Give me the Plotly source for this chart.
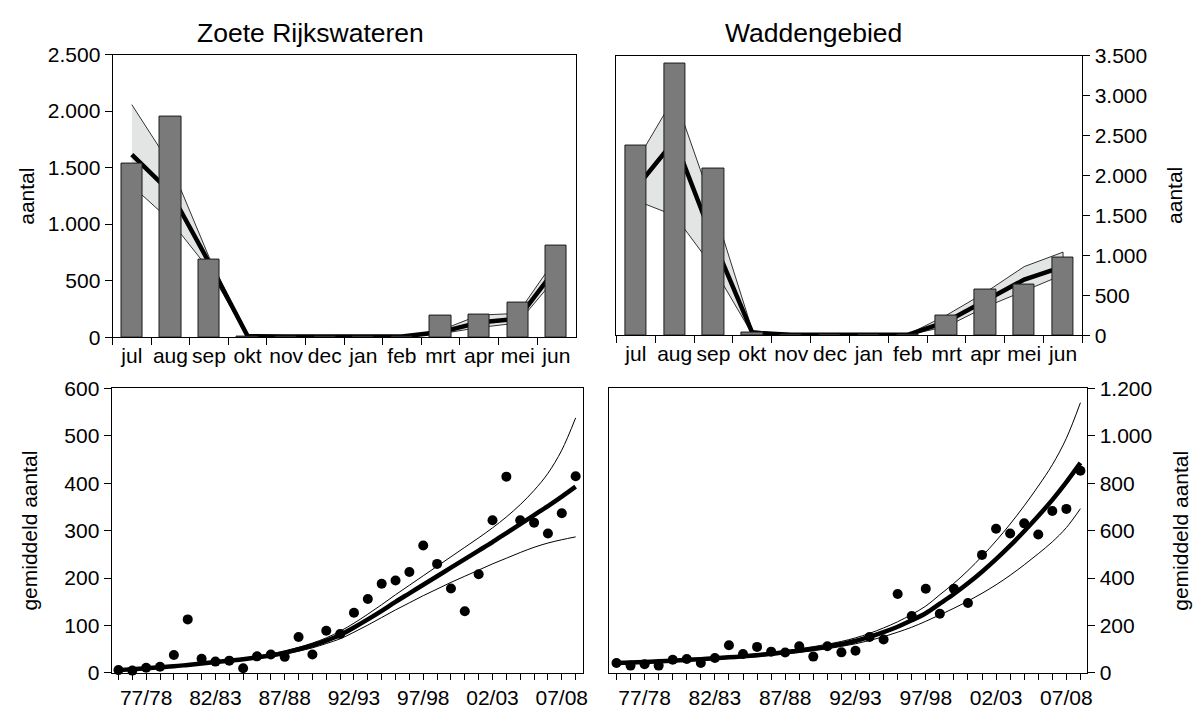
import plotly.graph_objects as go

W, H = 1202, 713

# ---- monthly totals (top row) ----
months = ["jul", "aug", "sep", "okt", "nov", "dec", "jan", "feb", "mrt", "apr", "mei", "jun"]

zr_counts = [1540, 1955, 682, 8, 4, 2, 1, 2, 190, 203, 302, 810]
zr_trend = [1615, 1284, 662, 10, 5, 3, 2, 5, 45, 130, 163, 610]
zr_upper = [2057, 1527, 710, 15, 7, 4, 3, 7, 60, 195, 210, 700]
zr_lower = [1340, 1030, 600, 6, 3, 2, 1, 3, 30, 85, 125, 530]

wg_counts = [2375, 3400, 2090, 35, 5, 3, 3, 5, 250, 567, 640, 975]
wg_trend = [1840, 2440, 1180, 30, 5, 3, 3, 5, 170, 434, 697, 860]
wg_upper = [2163, 2988, 1600, 60, 8, 5, 5, 8, 251, 535, 859, 1040]
wg_lower = [1686, 1497, 840, 12, 3, 2, 2, 3, 109, 352, 555, 757]

# ---- seasonal means (bottom row) ----
seasons = ["75/76", "76/77", "77/78", "78/79", "79/80", "80/81", "81/82", "82/83",
           "83/84", "84/85", "85/86", "86/87", "87/88", "88/89", "89/90", "90/91",
           "91/92", "92/93", "93/94", "94/95", "95/96", "96/97", "97/98", "98/99",
           "99/00", "00/01", "01/02", "02/03", "03/04", "04/05", "05/06", "06/07",
           "07/08", "08/09"]
season_labels = ["77/78", "82/83", "87/88", "92/93", "97/98", "02/03", "07/08"]

zr_mean = [6, 5, 11, 13, 38, 113, 30, 24, 26, 10, 35, 39, 34, 76, 39, 89,
           82, 127, 156, 188, 195, 213, 269, 230, 178, 130, 208, 322, 414, 322,
           317, 294, 337, 415]
zr_fit = [6, 8, 10, 12, 14, 17, 20, 23, 26, 29, 33, 37, 43, 50, 58, 68,
          80, 96, 113, 131, 150, 168, 186, 204, 222, 240, 258, 276, 295, 314,
          333, 352, 372, 393]
zr_fit_hi = [7, 9, 11, 13, 15, 18, 21, 24, 28, 31, 35, 40, 46, 54, 63, 74,
             88, 105, 124, 144, 165, 185, 205, 225, 245, 265, 285, 306, 329, 355,
             385, 421, 470, 538]
zr_fit_lo = [5, 7, 9, 11, 13, 16, 19, 22, 24, 27, 31, 35, 40, 46, 53, 62,
             72, 86, 101, 117, 133, 148, 163, 177, 191, 204, 217, 230, 242, 254,
             265, 274, 281, 287]

wg_mean = [42, 31, 37, 31, 56, 59, 42, 63, 117, 80, 110, 90, 86, 113, 69, 113,
           87, 94, 152, 141, 333, 240, 355, 250, 355, 295, 498, 608, 588, 631,
           584, 683, 692, 853]
wg_fit = [42, 44, 46, 49, 52, 55, 58, 62, 66, 70, 75, 81, 87, 94, 102, 111,
          122, 135, 152, 172, 195, 222, 252, 292, 333, 378, 427, 480, 537, 598,
          662, 730, 805, 886]
wg_fit_hi = [45, 47, 49, 52, 55, 59, 62, 66, 71, 75, 81, 87, 94, 102, 111, 121,
             133, 148, 167, 190, 216, 247, 282, 330, 378, 432, 492, 557, 628, 705,
             788, 878, 990, 1140]
wg_fit_lo = [39, 41, 43, 46, 48, 51, 54, 57, 61, 65, 69, 75, 80, 87, 94, 102,
             112, 123, 137, 153, 172, 193, 218, 245, 273, 303, 336, 372, 412, 456,
             503, 553, 613, 693]

BAR_FILL = "#7a7a7a"
BAND_FILL = "#e3e5e5"
FONT = "Liberation Sans, Arial, sans-serif"
TXT = 21


def dom_x(a, b):
    return [a / W, b / W]


def dom_y(top, bottom):
    return [1 - bottom / H, 1 - top / H]


fig = go.Figure()


def monthly_panel(xa, ya, yb, counts, trend, upper, lower):
    fig.add_trace(go.Scatter(
        x=months + months[::-1], y=upper + lower[::-1],
        fill="toself", fillcolor=BAND_FILL, mode="lines",
        line=dict(color="black", width=0.8),
        xaxis=xa, yaxis=ya, hoverinfo="skip"))
    fig.add_trace(go.Scatter(
        x=months, y=trend, mode="lines",
        line=dict(color="black", width=4.5),
        xaxis=xa, yaxis=ya))
    fig.add_trace(go.Bar(
        x=months, y=counts, width=0.55,
        marker=dict(color=BAR_FILL, line=dict(color="#1a1a1a", width=1)),
        xaxis=xa, yaxis=yb))


def season_panel(xa, ya, mean, fit, hi, lo):
    fig.add_trace(go.Scatter(
        x=seasons, y=mean, mode="markers",
        marker=dict(color="black", size=10, symbol="circle"),
        xaxis=xa, yaxis=ya, cliponaxis=False))
    for series in (hi, lo):
        fig.add_trace(go.Scatter(
            x=seasons, y=series, mode="lines", line_shape="spline",
            line=dict(color="black", width=1),
            xaxis=xa, yaxis=ya))
    fig.add_trace(go.Scatter(
        x=seasons, y=fit, mode="lines", line_shape="spline",
        line=dict(color="black", width=4.5),
        xaxis=xa, yaxis=ya))


monthly_panel("x", "y", "y5", zr_counts, zr_trend, zr_upper, zr_lower)
monthly_panel("x2", "y2", "y6", wg_counts, wg_trend, wg_upper, wg_lower)
season_panel("x3", "y3", zr_mean, zr_fit, zr_fit_hi, zr_fit_lo)
season_panel("x4", "y4", wg_mean, wg_fit, wg_fit_hi, wg_fit_lo)

tick_font = dict(family=FONT, size=TXT, color="black")

common_axis = dict(showline=True, mirror=True, linecolor="black", linewidth=1,
                   showgrid=False, zeroline=False, ticks="outside",
                   tickcolor="black", tickwidth=1, tickfont=tick_font)

month_x = dict(common_axis, type="category", categoryorder="array",
               categoryarray=months, range=[-0.5, 11.5], tickangle=0,
               tickson="boundaries", ticklen=7)

season_ticktext = [s if s in season_labels else "" for s in seasons]
season_x = dict(common_axis, type="category", categoryorder="array",
                categoryarray=seasons, range=[-0.5, 33.5], tickangle=0,
                tickmode="array", tickvals=seasons, ticktext=season_ticktext,
                ticklen=6)

fig.update_layout(
    width=W, height=H,
    margin=dict(l=0, r=0, t=0, b=0),
    paper_bgcolor="white", plot_bgcolor="white",
    showlegend=False, bargap=0,
    separators=",.",
    font=dict(family=FONT, size=TXT, color="black"),
    xaxis=dict(month_x, domain=dom_x(113, 578), anchor="y"),
    yaxis=dict(common_axis, domain=dom_y(44, 336), anchor="x",
               range=[0, 2500], dtick=500, tickformat=",d", ticklen=7),
    yaxis5=dict(overlaying="y", anchor="x", range=[0, 2500], visible=False),
    xaxis2=dict(month_x, domain=dom_x(619, 1087), anchor="y2"),
    yaxis2=dict(common_axis, domain=dom_y(45, 334), anchor="x2", side="right",
                range=[0, 3500], dtick=500, tickformat=",d", ticklen=7),
    yaxis6=dict(overlaying="y2", anchor="x2", range=[0, 3500], visible=False),
    xaxis3=dict(season_x, domain=dom_x(112, 585), anchor="y3"),
    yaxis3=dict(common_axis, domain=dom_y(389, 683), anchor="x3",
                range=[0, 600], dtick=100, tickformat=",d", ticklen=7),
    xaxis4=dict(season_x, domain=dom_x(612, 1092), anchor="y4"),
    yaxis4=dict(common_axis, domain=dom_y(389, 683), anchor="x4", side="right",
                range=[0, 1200], dtick=200, tickformat=",d", ticklen=7),
)


def label(text, px, py, size=TXT, angle=0):
    fig.add_annotation(text=text, x=px / W, y=1 - py / H, xref="paper", yref="paper",
                       xanchor="center", yanchor="middle", showarrow=False,
                       textangle=angle, font=dict(family=FONT, size=size, color="black"))


label("Zoete Rijkswateren", 312, 22, size=26.5)
label("Waddengebied", 817, 22, size=26.5)
label("aantal", 27, 190, angle=-90)
label("aantal", 1180, 190, angle=-90)
label("gemiddeld aantal", 30, 536, angle=-90)
label("gemiddeld aantal", 1186, 536, angle=-90)

fig.write_html("out.html")
